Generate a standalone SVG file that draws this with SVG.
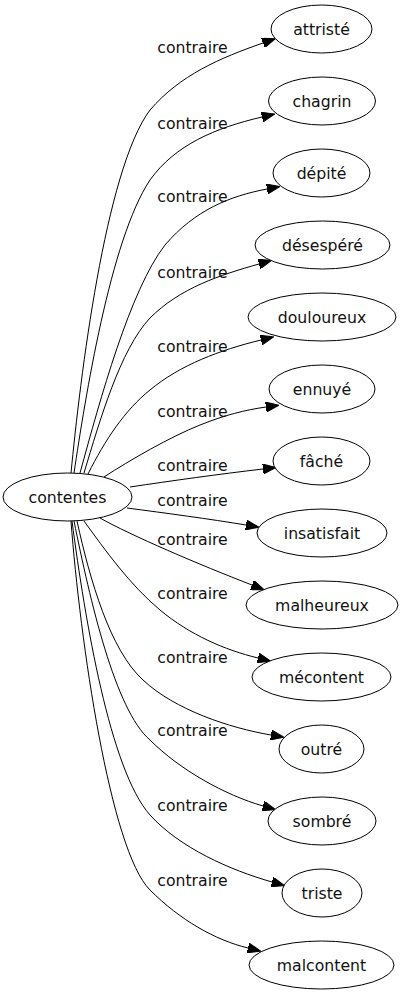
<svg xmlns="http://www.w3.org/2000/svg" width="403" height="995" viewBox="0 0 403 995">
<style>
text{font-family:"DejaVu Sans","Liberation Sans",sans-serif;font-size:15.7px;fill:#111;text-anchor:middle}
ellipse{fill:#fff;stroke:#000;stroke-width:1}
#edges path{fill:none;stroke:#000;stroke-width:1;marker-end:url(#ah)}
</style>
<defs>
<marker id="ah" viewBox="0 0 13 10" refX="0" refY="5" markerUnits="userSpaceOnUse" markerWidth="13" markerHeight="10" orient="auto">
<path d="M0,0 L13,5 L0,10 z" fill="#000" stroke="#000" stroke-width="1"/>
</marker>
</defs>
<rect width="403" height="995" fill="#fff"/>
<g id="edges">
<path d="M71,473 C80,380 105,170 150,110 C180,75 220,58 263,43"/>
<path d="M74,473 C85,400 110,240 150,180 C175,145 215,128 262,117"/>
<path d="M80,473 C100,400 130,290 165,245 C195,210 230,196 267,189"/>
<path d="M84,473 C100,420 120,350 150,318 C180,288 220,275 259,264"/>
<path d="M88,474 C105,440 125,410 150,390 C180,365 220,350 261,340"/>
<path d="M104,477 C130,460 170,437 200,425 C225,415 245,410 266,407"/>
<path d="M130,487 C170,481 220,474 263,469"/>
<path d="M127,508 C165,513 210,519 246,525"/>
<path d="M100,518 C130,535 200,565 252,585"/>
<path d="M84,521 C105,550 130,585 160,610 C190,635 225,650 258,658"/>
<path d="M77,521 C90,580 110,650 143,680 C175,710 230,728 271,735"/>
<path d="M74,521 C90,600 115,710 150,740 C180,770 225,795 263,806"/>
<path d="M72,521 C85,620 110,770 150,815 C180,848 230,870 272,882"/>
<path d="M71,521 C80,640 110,850 150,890 C180,920 215,940 248,948"/>
</g>
<g id="labels">
<text x="192.5" y="53">contraire</text>
<text x="192.5" y="129">contraire</text>
<text x="192.5" y="202">contraire</text>
<text x="192.5" y="278">contraire</text>
<text x="192.5" y="352">contraire</text>
<text x="192.5" y="417">contraire</text>
<text x="192.5" y="471">contraire</text>
<text x="192.5" y="506">contraire</text>
<text x="192.5" y="545">contraire</text>
<text x="192.5" y="599">contraire</text>
<text x="192.5" y="663">contraire</text>
<text x="192.5" y="736">contraire</text>
<text x="192.5" y="811">contraire</text>
<text x="192.5" y="886">contraire</text>
</g>
<g id="n_contentes"><ellipse cx="67.5" cy="497" rx="64.5" ry="24"/><text x="67.5" y="502.5">contentes</text></g>
<g id="n_attriste"><ellipse cx="321.5" cy="29" rx="50.5" ry="24"/><text x="321.5" y="34.5">attristé</text></g>
<g id="n_chagrin"><ellipse cx="322" cy="101" rx="53.5" ry="24"/><text x="322" y="106.5">chagrin</text></g>
<g id="n_depite"><ellipse cx="321.5" cy="173" rx="48.5" ry="24"/><text x="321.5" y="178.5">dépité</text></g>
<g id="n_desespere"><ellipse cx="322.5" cy="245" rx="67.5" ry="24"/><text x="322.5" y="250.5">désespéré</text></g>
<g id="n_douloureux"><ellipse cx="322" cy="317" rx="74" ry="24"/><text x="322" y="322.5">douloureux</text></g>
<g id="n_ennuye"><ellipse cx="322" cy="389" rx="53" ry="24"/><text x="322" y="394.5">ennuyé</text></g>
<g id="n_fache"><ellipse cx="321.5" cy="461" rx="48.5" ry="24"/><text x="321.5" y="466.5">fâché</text></g>
<g id="n_insatisfait"><ellipse cx="322" cy="533" rx="65" ry="24"/><text x="322" y="538.5">insatisfait</text></g>
<g id="n_malheureux"><ellipse cx="322" cy="605" rx="76" ry="24"/><text x="322" y="610.5">malheureux</text></g>
<g id="n_mecontent"><ellipse cx="321.5" cy="677" rx="69.5" ry="24"/><text x="321.5" y="682.5">mécontent</text></g>
<g id="n_outre"><ellipse cx="321.5" cy="749" rx="42.5" ry="24"/><text x="321.5" y="754.5">outré</text></g>
<g id="n_sombre"><ellipse cx="322" cy="821" rx="54" ry="24"/><text x="322" y="826.5">sombré</text></g>
<g id="n_triste"><ellipse cx="322" cy="893" rx="40" ry="24"/><text x="322" y="898.5">triste</text></g>
<g id="n_malcontent"><ellipse cx="321.5" cy="965" rx="72.5" ry="24"/><text x="321.5" y="970.5">malcontent</text></g>
</svg>
